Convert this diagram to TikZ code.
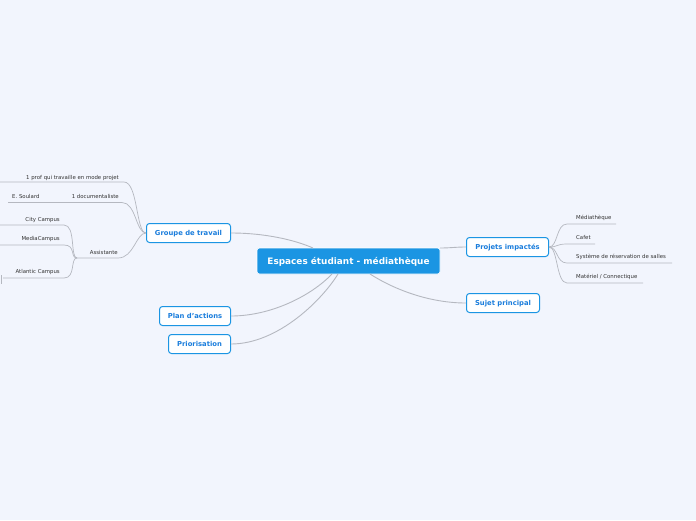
\documentclass[tikz,border=0pt]{standalone}
\usepackage{fontspec}
\setmainfont{DejaVu Sans}
\definecolor{bgc}{HTML}{F2F5FD}
\definecolor{mainblue}{HTML}{1B95E3}
\definecolor{topicblue}{HTML}{1A7DDC}
\definecolor{linec}{HTML}{B5B8C0}
\definecolor{labc}{HTML}{333333}
\tikzset{
  central/.style={fill=mainblue, draw=white, line width=0.6pt, rounded corners=2.5pt, text=white, font=\fontsize{8.9}{10}\selectfont\bfseries, inner sep=0pt, minimum height=26pt, text height=6.5pt, text depth=0pt},
  topic/.style={fill=white, draw=mainblue, line width=1pt, rounded corners=3pt, text=topicblue, font=\fontsize{6.8}{8}\selectfont\bfseries, inner sep=0pt, minimum height=19pt, text height=5pt, text depth=0pt},
  lab/.style={text=labc, font=\fontsize{5.4}{6}\selectfont, inner sep=0pt, text height=4pt, text depth=0pt},
  conn/.style={draw=linec, line width=0.9pt},
  sconn/.style={draw=linec, line width=0.7pt},
}
\begin{document}
\begin{tikzpicture}[x=1pt,y=-1pt]
\fill[bgc] (0,0) rectangle (696,520);
\useasboundingbox (0,0) rectangle (696,520);

% central
\node[central, minimum width=183pt] (c) at (348.5,261) {Espaces étudiant - médiathèque};

% topics
\node[topic, minimum width=84pt] (g) at (188.5,233) {Groupe de travail};
\node[topic, minimum width=71pt] (p) at (195,316) {Plan d{\char"0027}actions};
\node[topic, minimum width=62pt] (r) at (199.5,344) {Priorisation};
\node[topic, minimum width=82pt] (pi) at (507.5,247) {Projets impactés};
\node[topic, minimum width=73pt] (s) at (503,303) {Sujet principal};

% main connectors
\coordinate (cg) at (313,248);
\coordinate (cp) at (332,274);
\coordinate (cr) at (338,274);
\coordinate (cs) at (370,274);
\coordinate (cpi) at (440,248);
\draw[conn] (g.east) .. controls (265,233) and (295,240) .. (cg);
\draw[conn] (p.east) .. controls (272,316) and (312,295) .. (cp);
\draw[conn] (r.east) .. controls (278,344) and (322,300) .. (cr);
\draw[conn] (cpi) .. controls (450,248) and (456,247) .. (pi.west);
\draw[conn] (cs) .. controls (395,290) and (430,303) .. (s.west);

% right children
\node[lab, anchor=west] (m1) at (576,217.7) {Médiathèque};
\node[lab, anchor=west] (m2) at (576,237) {Cafet};
\node[lab, anchor=west] (m3) at (576,256.7) {Système de réservation de salles};
\node[lab, anchor=west] (m4) at (576,276) {Matériel / Connectique};
\coordinate (a1) at (567,224); \coordinate (b1) at (616,224);
\coordinate (a2) at (567,244); \coordinate (b2) at (595,244);
\coordinate (a3) at (567,263); \coordinate (b3) at (672,263);
\coordinate (a4) at (567,283); \coordinate (b4) at (643,283);
\foreach \i/\yy in {1/224,2/244,3/263,4/283}{
  \draw[sconn] (pi.east) .. controls (558,247) and (556,\yy) .. (a\i) -- (b\i);
}

% left children of Groupe de travail
\node[lab, anchor=east] (l1) at (119,177) {1 prof qui travaille en mode projet};
\node[lab, anchor=east] (l2) at (119,196) {1 documentaliste};
\node[lab, anchor=west] (l2a) at (12,196) {E. Soulard};
\node[lab, anchor=east] (l3) at (118,252.3) {Assistante};
\coordinate (p1) at (124,182); \coordinate (q1) at (0,182);
\coordinate (p2) at (122,202.5); \coordinate (q2) at (65,202.5); \coordinate (q2a) at (8,202.5);
\coordinate (p3) at (118,258); \coordinate (q3) at (77,258);
\draw[sconn] (g.west) .. controls (136,233) and (138,182) .. (p1) -- (q1);
\draw[sconn] (g.west) .. controls (136,233) and (136,202.5) .. (p2) -- (q2);
\draw[sconn] (q2) -- (q2a);
\draw[sconn] (g.west) .. controls (136,233) and (134,258) .. (p3) -- (q3);

% children of Assistante
\node[lab, anchor=east] (k1) at (60,219.3) {City Campus};
\node[lab, anchor=east] (k2) at (60,238.3) {MediaCampus};
\node[lab, anchor=east] (k3) at (60,271.7) {Atlantic Campus};
\coordinate (r1) at (64,225); \coordinate (t1) at (0,225);
\coordinate (r2) at (64,245); \coordinate (t2) at (0,245);
\coordinate (r3) at (64,278); \coordinate (t3) at (3,278);
\draw[sconn] (q3) .. controls (70,258) and (76,225) .. (r1) -- (t1);
\draw[sconn] (q3) .. controls (70,258) and (76,245) .. (r2) -- (t2);
\draw[sconn] (q3) .. controls (70,258) and (76,278) .. (r3) -- (t3);
\draw[sconn] (1.5,275) -- (1.5,284);
\end{tikzpicture}
\end{document}
